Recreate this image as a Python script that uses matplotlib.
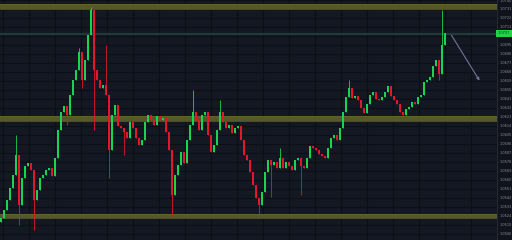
import matplotlib
matplotlib.use("Agg")
import matplotlib.pyplot as plt
import numpy as np

# closing prices, one per candle (open = previous close)
closes = [
    1.0522, 1.0530, 1.0540, 1.0552, 1.0565, 1.0585, 1.0535, 1.0562, 1.0574, 1.0577,
    1.0570, 1.0540, 1.0550, 1.0562, 1.0565, 1.0570, 1.0572, 1.0564, 1.0582, 1.0610,
    1.0628, 1.0634, 1.0625, 1.0645, 1.0660, 1.0670, 1.0688, 1.0660, 1.0680, 1.0705,
    1.0730, 1.0670, 1.0660, 1.0652, 1.0655, 1.0645, 1.0590, 1.0625, 1.0635, 1.0614,
    1.0612, 1.0608, 1.0602, 1.0618, 1.0612, 1.0602, 1.0595, 1.0600, 1.0618, 1.0625,
    1.0620, 1.0615, 1.0624, 1.0620, 1.0622, 1.0608, 1.0590, 1.0545, 1.0565, 1.0575,
    1.0588, 1.0577, 1.0600, 1.0615, 1.0628, 1.0620, 1.0610, 1.0625, 1.0628, 1.0605,
    1.0588, 1.0595, 1.0610, 1.0628, 1.0618, 1.0612, 1.0615, 1.0607, 1.0612, 1.0614,
    1.0600, 1.0585, 1.0580, 1.0568, 1.0555, 1.0542, 1.0535, 1.0548, 1.0568, 1.0580,
    1.0575, 1.0578, 1.0572, 1.0582, 1.0572, 1.0578, 1.0574, 1.0570, 1.0580, 1.0582,
    1.0574, 1.0572, 1.0582, 1.0594, 1.0592, 1.0590, 1.0586, 1.0584, 1.0582, 1.0592,
    1.0602, 1.0605, 1.0600, 1.0612, 1.0628, 1.0643, 1.0652, 1.0642, 1.0644, 1.0640,
    1.0632, 1.0627, 1.0636, 1.0645, 1.0648, 1.0641, 1.0640, 1.0643, 1.0648, 1.0654,
    1.0644, 1.0640, 1.0636, 1.0628, 1.0625, 1.0631, 1.0633, 1.0638, 1.0636, 1.0643,
    1.0645, 1.0658, 1.0660, 1.0663, 1.0674, 1.0680, 1.0666, 1.0695, 1.0707,
]
first_open = 1.0518

# long wicks (candle index -> price)
spike_high = {5: 1.0605, 26: 1.0692, 30: 1.0733, 35: 1.0695, 64: 1.0650,
              73: 1.0640, 93: 1.0592, 116: 1.0660, 147: 1.0730}
spike_low = {6: 1.0515, 11: 1.0510, 22: 1.0615, 27: 1.0652, 31: 1.0610, 36: 1.0562,
             41: 1.0585, 57: 1.0524, 86: 1.0525, 90: 1.0543, 100: 1.0545, 146: 1.0660}

# drawn support / resistance zones (low, high)
zones = [(1.0731, 1.0736), (1.0619, 1.0624), (1.0522, 1.0526)]
last_price = 1.07065
arrow_start = (149.7, 1.0707)
arrow_end = (160.0, 1.0657)

bg = "#141823"
up_col = "#19d44e"
down_col = "#e3162e"

fig = plt.figure(figsize=(5.12, 2.4), dpi=100, facecolor="#10131b")
ax = fig.add_axes([0, 0, 497 / 512, 1])
ax.set_facecolor(bg)

n = len(closes)
opens = [first_open] + closes[:-1]
for i in range(n):
    o, c = opens[i], closes[i]
    col = up_col if c >= o else down_col
    lo, hi = min(o, c), max(o, c)
    top = spike_high.get(i, hi)
    bot = spike_low.get(i, lo)
    ax.vlines(i, bot, top, color=col, lw=0.6, zorder=3)
    ax.bar(i, max(hi - lo, 0.00008), bottom=lo, width=0.8, color=col, lw=0, zorder=3)

for lo, hi in zones:
    ax.axhspan(lo, hi, color="#575829", lw=0, zorder=2)
    ax.axhline(hi, color="#66672e", lw=0.5, zorder=2)
    ax.axhline(lo, color="#66672e", lw=0.5, zorder=2)

ax.axhline(last_price, color="#22393a", lw=1.6, zorder=2)

ax.annotate("", xy=arrow_end, xytext=arrow_start,
            arrowprops=dict(arrowstyle="-|>", color="#6d7698", lw=0.8,
                            mutation_scale=4), zorder=4)

ax.set_xlim(-0.33, 165.33)
ax.set_ylim(1.0500, 1.0740)

ax.set_xticks(np.arange(0.67, 166, 26 / 3))
ax.set_yticks(np.arange(1.0740, 1.0502, -0.0009))
ax.grid(True, color="#0c0f16", lw=0.8, zorder=1)
ax.tick_params(axis="x", length=0, labelbottom=False)
ax.yaxis.tick_right()
ax.tick_params(axis="y", length=1.0, width=0.4, color="#3a3f4c", pad=1.0,
               labelsize=2.5, labelcolor="#8a8f9c")
ax.yaxis.set_major_formatter(plt.FuncFormatter(lambda v, p: f"{v:.4f}"))
for s in ax.spines.values():
    s.set_visible(False)
ax.spines["right"].set_visible(True)
ax.spines["right"].set_color("#2a2e39")
ax.spines["right"].set_linewidth(0.6)

ax.text(1.002, last_price, f"{last_price:.4f}", transform=ax.get_yaxis_transform(),
        fontsize=2.5, color="#0b3d18", va="center", ha="left", zorder=6,
        bbox=dict(boxstyle="square,pad=0.5", fc="#22d34f", ec="none"), clip_on=False)

fig.savefig("out.png", dpi=100, facecolor=fig.get_facecolor())
